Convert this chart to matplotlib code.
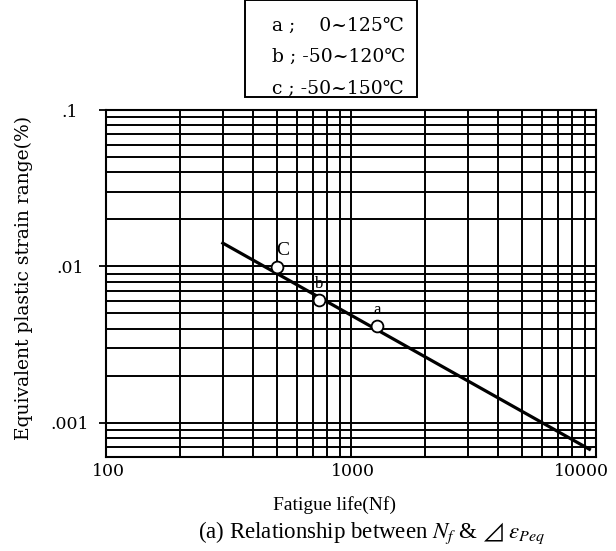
import matplotlib
matplotlib.use("Agg")
import matplotlib.pyplot as plt
from matplotlib.ticker import FixedLocator, FixedFormatter, LogLocator, NullFormatter

# fitted line end points (Nf, strain range %)
fit_nf = [300, 9400]
fit_strain = [0.0141, 0.000676]

# test conditions
point_names = ["C", "b", "a"]
point_nf = [498, 740, 1273]
point_strain = [0.00985, 0.00607, 0.00414]

legend_lines = ["a ;    0~125℃", "b ; -50~120℃", "c ; -50~150℃"]

x_ticks = [100, 1000, 10000]
x_labels = ["100", "1000", "10000"]
y_ticks = [0.1, 0.01, 0.001]
y_labels = [".1", ".01", ".001"]

plt.rcParams["mathtext.fontset"] = "stix"
wide = ["DejaVu Serif", "DejaVu Sans"]
narrow = ["Liberation Serif", "DejaVu Serif", "DejaVu Sans"]
plt.rcParams["font.family"] = wide

fig = plt.figure(figsize=(6.16, 5.51), dpi=100)
ax = fig.add_axes([0.172, 0.170, 0.7955, 0.630])

ax.set_xscale("log")
ax.set_yscale("log")
ax.set_xlim(100, 10000)
ax.set_ylim(0.0006, 0.1)

ax.xaxis.set_major_locator(FixedLocator(x_ticks))
ax.xaxis.set_major_formatter(NullFormatter())
ax.yaxis.set_major_locator(FixedLocator(y_ticks))
ax.yaxis.set_major_formatter(FixedFormatter(y_labels))
ax.xaxis.set_minor_locator(LogLocator(base=10, subs=range(2, 10)))
ax.yaxis.set_minor_locator(LogLocator(base=10, subs=range(2, 10)))
ax.xaxis.set_minor_formatter(NullFormatter())
ax.yaxis.set_minor_formatter(NullFormatter())

ax.grid(True, which="both", color="black", linewidth=1.4)
ax.set_axisbelow(True)
ax.tick_params(axis="x", which="both", length=0)
ax.tick_params(axis="y", which="major", length=5, width=1.3, labelsize=12.5, pad=21)
ax.tick_params(axis="y", which="minor", length=0)
for lbl in ax.get_yticklabels():
    lbl.set_horizontalalignment("center")
for s in ax.spines.values():
    s.set_linewidth(1.5)

# x tick labels, the last one sits a little inside like in the print
for val, txt in zip(x_ticks, x_labels):
    shift = -0.03 if val == x_ticks[-1] else 0.005
    ax.text(val, -0.04, txt, transform=ax.get_xaxis_transform(), ha="center",
            va="center", fontsize=12.5)
    ax.texts[-1].set_x(val * 10 ** (shift * 2))

ax.plot(fit_nf, fit_strain, color="black", linewidth=2.3, zorder=3)
ax.plot(point_nf, point_strain, "o", markersize=8.5, markerfacecolor="white",
        markeredgecolor="black", markeredgewidth=1.3, zorder=4)
for name, nx, sy in zip(point_names, point_nf, point_strain):
    ax.annotate(name, (nx, sy), xytext=(4 if name == "C" else 0, 6),
                textcoords="offset points", ha="center", va="bottom",
                family=narrow, fontsize=12 if name != "C" else 14)

ax.set_xlabel("Fatigue life(Nf)", fontsize=14, family=narrow)
ax.xaxis.set_label_coords(0.467, -0.113)
ax.set_ylabel("Equivalent plastic strain range(%)", fontsize=13.5)
ax.yaxis.set_label_coords(-0.149, 0.518)

fig.text(0.604, 0.034, r"(a) Relationship between $N_f$ & $⊿\ \epsilon_{Peq}$",
         ha="center", va="center", fontsize=16.5, family=narrow)

# legend box
fig.patches.append(plt.Rectangle((0.398, 0.824), 0.279, 0.176, transform=fig.transFigure,
                                 fill=False, edgecolor="black", linewidth=1.4))
for i, line in enumerate(legend_lines):
    fig.text(0.441, 0.953 - i * 0.057, line, ha="left", va="center", fontsize=13.5)

fig.savefig("out.png", dpi=100)
